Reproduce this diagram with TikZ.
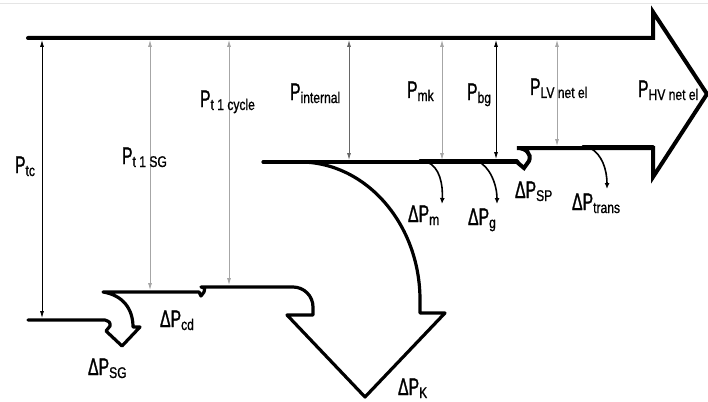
\documentclass[tikz,border=0pt]{standalone}
\usepackage{fontspec}
\setmainfont{Liberation Sans}
\newfontfamily\bigf[FakeStretch=0.66,FakeBold=1.2]{Liberation Sans}
\newfontfamily\subf[FakeStretch=0.78,FakeBold=1.0]{Liberation Sans}
\usetikzlibrary{arrows.meta}
\newcommand\Plab[2]{{\fontsize{24}{24}\selectfont\bigf #1}\raisebox{-3pt}{\fontsize{15.5}{16}\selectfont\subf #2}}
\tikzset{
  lbl/.style={anchor=base west, inner sep=0pt, outer sep=0pt},
  flow/.style={line width=3.2pt, line join=round, line cap=round},
  topflow/.style={line width=4pt, line join=miter, line cap=round},
  meas/.style={line width=0.8pt, {Latex[length=7pt,width=4pt]}-{Latex[length=7pt,width=4pt]}},
  loss/.style={line width=1.6pt, -{Latex[length=6pt,width=5pt]}},
}
\begin{document}
\begin{tikzpicture}[x=1pt,y=-1pt]
\useasboundingbox (0,0) rectangle (708,401);
\draw[gray!20, line width=1pt] (0,4) -- (708,4);

% named points of the flow
\coordinate (top0) at (28,38);
\coordinate (topR) at (653,38);
\coordinate (headT) at (653,12);
\coordinate (tip) at (707,94);
\coordinate (headB) at (653,177);
\coordinate (lvR) at (653,148);
\coordinate (lvL) at (517,148);
\coordinate (intR) at (518,162);
\coordinate (intL) at (263,162);
\coordinate (kStart) at (300,162);
\coordinate (cycR) at (293,287);
\coordinate (cycL) at (201,287);
\coordinate (sgR) at (199,292);
\coordinate (sgL) at (103,292);
\coordinate (tcR) at (105,320);
\coordinate (tcL) at (28,320);

% main flow outline
\draw[topflow] (top0) -- (topR) -- (headT) -- (tip) -- (headB) -- (lvR) -- (lvL)
  .. controls (526,148) and (532,154) .. (529,161) -- (524,168) -- (518,163);
\draw[flow] (583,147) -- (653,147);
\draw[flow] (intR) -- (intL);
\draw[flow] (420,161) -- (517,161);
% Delta P_K big arrow
\draw[flow] (kStart) .. controls (366,162) and (420,224) .. (420,300) -- (420,313)
  -- (445,313) -- (365,397) -- (287,315) -- (313,315) -- (313,307)
  .. controls (313,296) and (304,287) .. (cycR) -- (cycL)
  .. controls (205,288) .. (204,292) -- (201,296) -- (sgR) -- (sgL)
  .. controls (122,295) and (133,308) .. (133,327) -- (140,327) -- (122,346)
  -- (106,331) -- (110,326) .. controls (110,322) .. (tcR) -- (tcL);

% small loss arrows
\coordinate (m0) at (427,162); \coordinate (m1) at (442,204);
\coordinate (g0) at (477,161); \coordinate (g1) at (497,204);
\coordinate (t0) at (590,148); \coordinate (t1) at (607,189);
\draw[loss] (m0) .. controls (440,167) and (443,185) .. (m1);
\draw[loss] (g0) .. controls (490,166) and (497,185) .. (g1);
\draw[loss] (t0) .. controls (602,154) and (607,170) .. (t1);

% measurement arrows
\coordinate (a1t) at (42,40);  \coordinate (a1b) at (42,318);
\coordinate (a2t) at (150,40); \coordinate (a2b) at (150,290);
\coordinate (a3t) at (229,40); \coordinate (a3b) at (229,285);
\coordinate (a4t) at (349,40); \coordinate (a4b) at (349,160);
\coordinate (a5t) at (442,40); \coordinate (a5b) at (442,160);
\coordinate (a6t) at (496,40); \coordinate (a6b) at (496,159);
\coordinate (a7t) at (557,40); \coordinate (a7b) at (557,146);
\draw[meas, black] (a1t) -- (a1b);
\draw[meas, gray!70] (a2t) -- (a2b);
\draw[meas, gray!70] (a3t) -- (a3b);
\draw[meas, gray!80!black] (a4t) -- (a4b);
\draw[meas, gray!70] (a5t) -- (a5b);
\draw[meas, black] (a6t) -- (a6b);
\draw[meas, gray!70] (a7t) -- (a7b);

% labels
\node[lbl] (ltc) at (15,173) {\Plab{P}{tc}};
\node[lbl] (lsg) at (122,164) {\Plab{P}{t 1 SG}};
\node[lbl] (lcy) at (200,107) {\Plab{P}{t 1 cycle}};
\node[lbl] (lin) at (290,100) {\Plab{P}{internal}};
\node[lbl] (lmk) at (407,98) {\Plab{P}{mk}};
\node[lbl] (lbg) at (467,100) {\Plab{P}{bg}};
\node[lbl] (llv) at (530,95) {\Plab{P}{LV net el}};
\node[lbl] (lhv) at (638,97) {\Plab{P}{HV net el}};
\node[lbl] (dsg) at (88,375) {\Plab{ΔP}{SG}};
\node[lbl] (dcd) at (160,327) {\Plab{ΔP}{cd}};
\node[lbl] (dk) at (398,395) {\Plab{ΔP}{K}};
\node[lbl] (dm) at (408,222) {\Plab{ΔP}{m}};
\node[lbl] (dg) at (468,225) {\Plab{ΔP}{g}};
\node[lbl] (dsp) at (515,198) {\Plab{ΔP}{SP}};
\node[lbl] (dtr) at (572,210) {\Plab{ΔP}{trans}};
\end{tikzpicture}
\end{document}
